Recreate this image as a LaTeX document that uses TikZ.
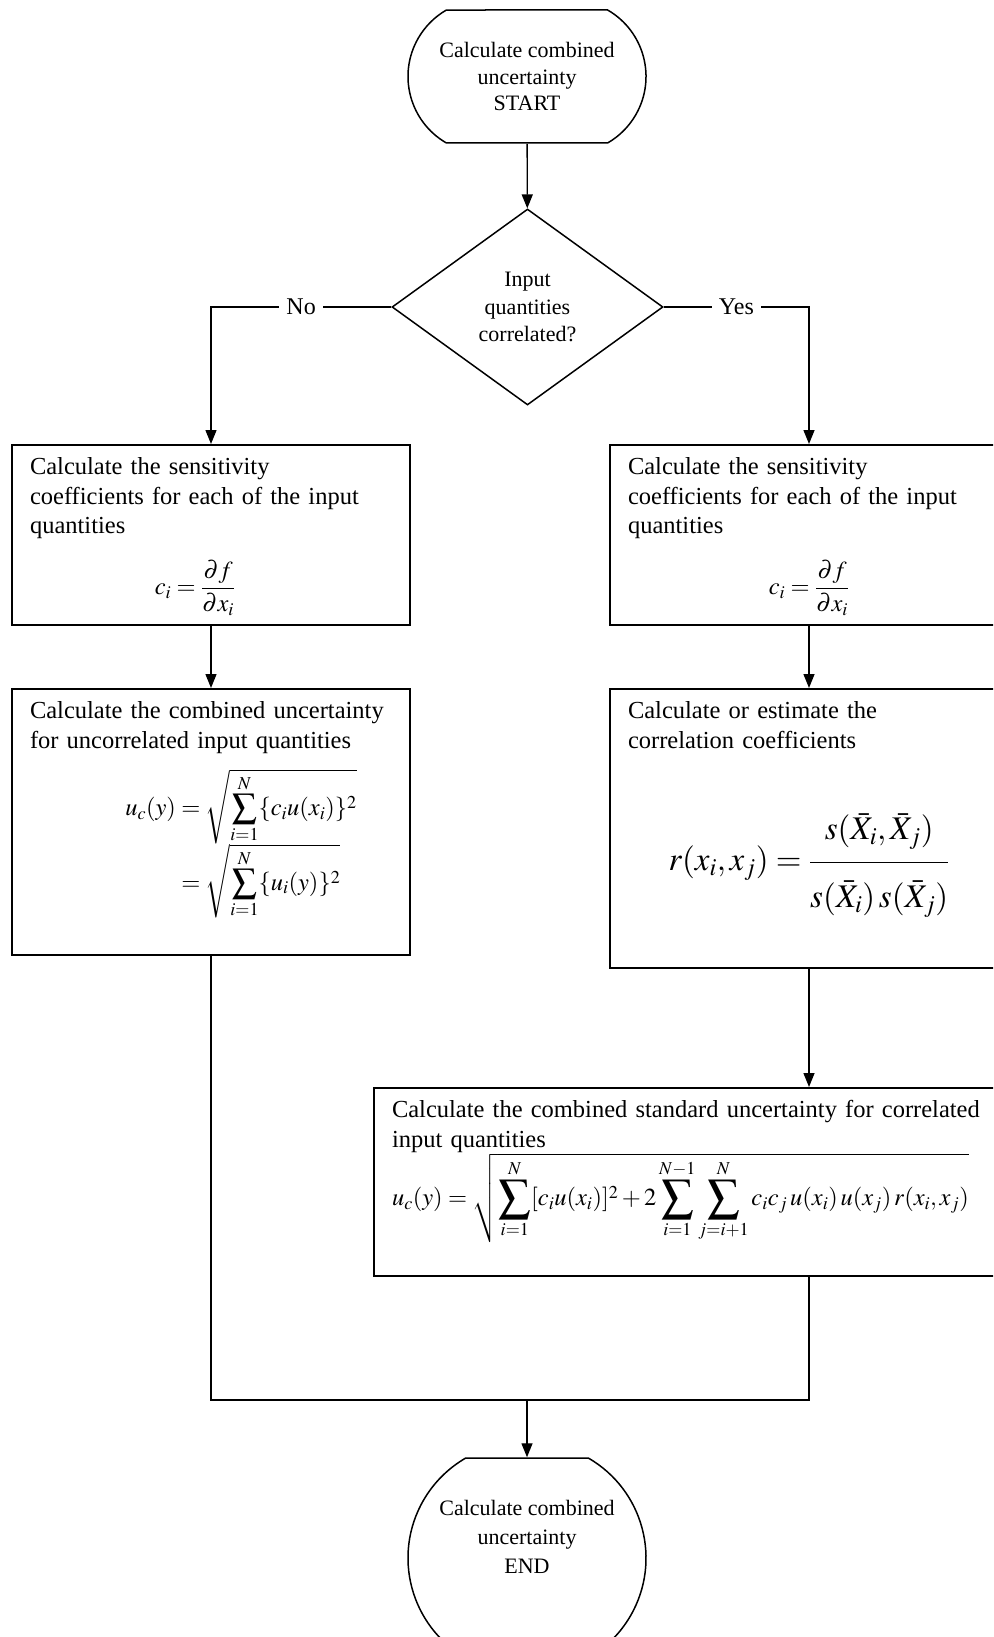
\documentclass[tikz,border=0pt]{standalone}
\usepackage{amsmath}
\usepackage{mathptmx}
\usepackage{graphicx}
\usepackage{fontspec}
\setmainfont{Liberation Serif}
\usepackage{tikz}
\usetikzlibrary{shapes.geometric, shapes.misc, arrows.meta}

% larger summation sign
\newcommand{\Sumop}{\mathop{\vcenter{\hbox{\scalebox{1.3}{$\displaystyle\sum$}}}}\limits}

\tikzset{
  terminal/.style={draw, rounded rectangle, rounded rectangle arc length=120, line width=1.5pt,
    minimum width=238pt, inner sep=0pt, align=center, font=\fontsize{22}{26.5}\selectfont},
  decision/.style={draw, diamond, line width=1.5pt, minimum width=271pt,
    minimum height=196pt, inner sep=0pt, align=center, font=\fontsize{22}{27.5}\selectfont},
  procbox/.style={draw, rectangle, line width=1.6pt, anchor=north, inner xsep=18pt,
    inner ysep=8pt, text height=22pt, text width=362pt, align=left,
    font=\fontsize{24.5}{29.5}\selectfont},
  flow/.style={line width=1.4pt, -{Triangle[length=14pt,width=11pt]}},
  link/.style={line width=1.4pt},
  answer/.style={fill=white, inner xsep=7pt, font=\fontsize{24}{28}\selectfont}
}

\begin{document}
\begin{tikzpicture}[x=1pt,y=-1pt]
        \useasboundingbox (0,0) rectangle (993,1637);
        \clip (0,0) rectangle (993,1637);

        % Start and decision
        \node[terminal, minimum height=133pt] (start) at (527,76.5)
            {Calculate combined\\uncertainty\\START};
        \node[decision] (dec) at (527.5,307) {Input\\quantities\\correlated?};

        % Uncorrelated branch
        \node[procbox, text depth=142pt] (sensL) at (211,444)
            {Calculate the sensitivity\\coefficients for each of the input\\quantities\par
             \vspace{20pt}{\centering ${\displaystyle c_i=\frac{\partial f}{\partial x_i}}$\hspace*{32pt}\par}};
        \node[procbox, text depth=228pt] (combL) at (211,688)
            {Calculate the combined uncertainty\\for uncorrelated input quantities\par
             \vspace{15pt}{\centering\hspace*{60pt}%
             $\begin{aligned}
               u_c(y)&=\sqrt{\sum_{i=1}^{N}\{c_iu(x_i)\}^2}\\[-4pt]
                     &=\sqrt{\sum_{i=1}^{N}\{u_i(y)\}^2}
             \end{aligned}$\par}};

        % Correlated branch
        \node[procbox, text depth=142pt] (sensR) at (809,444)
            {Calculate the sensitivity\\coefficients for each of the input\\quantities\par
             \vspace{20pt}{\centering ${\displaystyle c_i=\frac{\partial f}{\partial x_i}}$\par}};
        \node[procbox, text depth=241pt] (corrR) at (809,688)
            {Calculate or estimate the\\correlation coefficients\par
             \vspace{64pt}{\centering\fontsize{33}{38}\selectfont
             ${\displaystyle r(x_i,x_j)=\frac{s(\bar{X}_i,\bar{X}_j)\rule[-18pt]{0pt}{0pt}}
                 {\rule{0pt}{40pt}s(\bar{X}_i)\,s(\bar{X}_j)}}$\par}};
        \node[procbox, text width=630pt, text depth=150pt] (combR) at (707,1087)
            {Calculate the combined standard uncertainty for correlated\\input quantities\par
             \vspace{0pt}
             ${\displaystyle u_c(y)=\sqrt{\Sumop_{i=1}^{N}[c_iu(x_i)]^2+2\Sumop_{i=1}^{N-1}\Sumop_{j=i+1}^{N}c_ic_j\,u(x_i)\,u(x_j)\,r(x_i,x_j)}}$};

        % End
        \node[terminal, minimum height=200pt] (stop) at (527,1558) {};
        \node[align=center, font=\fontsize{22}{29}\selectfont] (stoptext) at (527,1537)
            {Calculate combined\\uncertainty\\END};
        \coordinate (join) at (527,1400);

        % Connectors
        \draw[flow] (start) -- (dec);
        \draw[flow] (dec.west) -| node[answer, pos=0.25] {No} (sensL.north);
        \draw[flow] (dec.east) -| node[answer, pos=0.25] {Yes} (sensR.north);
        \draw[flow] (sensL) -- (combL);
        \draw[flow] (sensR) -- (corrR);
        \draw[flow] (corrR.south) -- (corrR.south |- combR.north);
        \draw[link] (combL.south) |- (join) -| (corrR.south |- combR.south);
        \draw[flow] (join) -- (stop.north);
\end{tikzpicture}
\end{document}
